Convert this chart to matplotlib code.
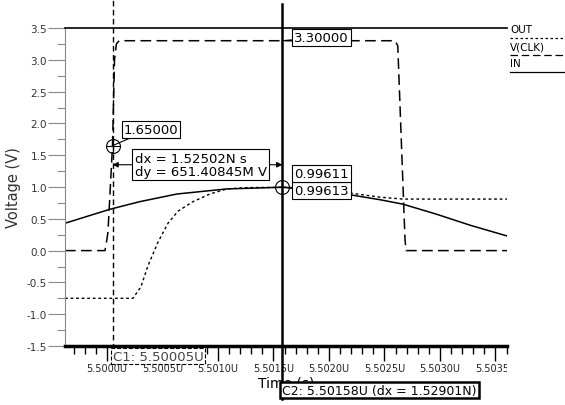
import matplotlib
matplotlib.use("Agg")
import matplotlib.pyplot as plt
import matplotlib.transforms as mtransforms
from matplotlib.lines import Line2D
from matplotlib.ticker import FixedLocator, MultipleLocator, FuncFormatter

# time in ns after 5.5 us, voltage in V
clk_t = [-0.378, -0.018, 0.0, 0.009, 0.05, 0.068, 0.085, 0.11, 2.595, 2.62, 2.685, 2.694, 3.604]
clk_v = [0.0, 0.0, 0.18, 0.29, 1.65, 3.0, 3.25, 3.3, 3.3, 3.22, 0.18, 0.0, 0.0]

out_t = [-0.378, 0.234, 0.306, 0.369, 0.459, 0.550, 0.640, 0.775, 0.928, 1.081,
         1.261, 1.58, 1.92, 2.252, 2.46, 2.667, 3.604]
out_v = [-0.75, -0.75, -0.57, -0.24, 0.13, 0.43, 0.62, 0.77, 0.89, 0.97,
         0.99, 0.996, 0.97, 0.89, 0.84, 0.81, 0.81]

in_t = [-0.378, 0.027, 0.297, 0.631, 1.081, 1.58, 1.92, 2.216, 2.46, 2.667, 2.973, 3.27, 3.604]
in_v = [0.43, 0.65, 0.77, 0.89, 0.97, 0.996, 0.96, 0.87, 0.80, 0.73, 0.57, 0.40, 0.23]

c1_t, c2_t = 0.05, 1.58
c1_v, c2_v = 1.65, 0.996
clk_high = 3.3
dy_level = 1.35

legend_names = ["OUT", "V(CLK)", "IN"]

fig = plt.figure(figsize=(5.65, 4.06), dpi=100, facecolor="white")
ax = fig.add_axes([65 / 565, 59 / 406, 442 / 565, 318 / 406])
ax.set_facecolor("white")

ax.plot(in_t, in_v, color="black", lw=1.1, solid_joinstyle="round")
ax.plot(out_t, out_v, color="black", lw=1.0, dashes=(2, 2))
ax.plot(clk_t, clk_v, color="black", lw=1.1, dashes=(7, 3.5))

ax.set_xlim(-0.378, 3.604)
ax.set_ylim(-1.5, 3.5)

ax.xaxis.set_major_locator(FixedLocator([0, 0.5, 1.0, 1.5, 2.0, 2.5, 3.0, 3.5]))
ax.xaxis.set_minor_locator(MultipleLocator(0.1))
ax.xaxis.set_major_formatter(FuncFormatter(lambda t, p: f"{5.5 + t * 1e-3:.4f}U"))
ax.yaxis.set_major_locator(MultipleLocator(0.5))
ax.yaxis.set_minor_locator(MultipleLocator(0.25))
ax.yaxis.set_major_formatter(FuncFormatter(lambda v, p: f"{v:.1f}"))

ax.tick_params(axis="x", which="major", direction="out", length=11, width=1,
               color="black", labelsize=7, labelcolor="#222222", pad=1)
ax.tick_params(axis="x", which="minor", direction="out", length=6, width=1, color="black")
ax.tick_params(axis="y", which="major", direction="out", length=12, width=0.8,
               color="#888888", labelsize=7.5, labelcolor="#333333", pad=1)
ax.tick_params(axis="y", which="minor", direction="out", length=6, width=0.8, color="#888888")

ax.spines["right"].set_visible(False)
ax.spines["left"].set_color("#888888")
ax.spines["left"].set_linewidth(0.8)
ax.spines["bottom"].set_linewidth(2.5)
ax.spines["top"].set_linewidth(1.2)

ax.set_xlabel("Time (s)", fontsize=10, labelpad=2)
ax.set_ylabel("Voltage (V)", fontsize=10.5, color="#333333", labelpad=4)

# clip the x tick labels at the right end of the axis
clip = mtransforms.TransformedBbox(mtransforms.Bbox.from_extents(0, 0, 507 / 565, 1), fig.transFigure)
for lab in ax.get_xticklabels():
    lab.set_clip_box(clip)
    lab.set_clip_on(True)

# cursors
ax.axvline(c1_t, ymin=-0.038, ymax=1.091, color="black", lw=1, dashes=(4, 2.5), clip_on=False, zorder=4)
ax.axvline(c2_t, ymin=-0.167, ymax=1.075, color="black", lw=1.8, clip_on=False, zorder=4)

trans = mtransforms.blended_transform_factory(ax.transData, ax.transAxes)
ax.text(c1_t, -0.012, "C1: 5.50005U", transform=trans, ha="left", va="top", fontsize=9.5,
        color="#444444", zorder=5,
        bbox=dict(boxstyle="square,pad=0.1", fc="white", ec="black", lw=0.8, ls="--"))
ax.text(c2_t, -0.118, "C2: 5.50158U (dx = 1.52901N)", transform=trans, ha="left", va="top",
        fontsize=9, zorder=5,
        bbox=dict(boxstyle="square,pad=0.15", fc="white", ec="black", lw=1.8))

# markers
for t, v in [(c1_t, c1_v), (c2_t, c2_v)]:
    ax.plot([t], [v], marker="o", ms=10, mfc="none", mec="black", mew=0.8, zorder=6)
    ax.plot([t], [v], marker="+", ms=10, mec="black", mew=0.8, zorder=6)

box = dict(boxstyle="square,pad=0.15", fc="white", ec="black", lw=0.8)
line = dict(arrowstyle="-", color="black", lw=0.8, shrinkA=0, shrinkB=0)
ax.annotate("1.65000", xy=(c1_t, c1_v), xytext=(11, 10), textcoords="offset pixels",
            ha="left", va="bottom", fontsize=9.5, bbox=box, arrowprops=line, zorder=7)
ax.annotate("3.30000", xy=(c2_t, clk_high), xytext=(12, -3), textcoords="offset pixels",
            ha="left", va="bottom", fontsize=9.5, bbox=box, arrowprops=line, zorder=7)
ax.annotate("0.99613", xy=(c2_t, c2_v), xytext=(12, -3), textcoords="offset pixels",
            ha="left", va="center", fontsize=9.5, bbox=box, arrowprops=line, zorder=7)
ax.annotate("0.99611", xy=(c2_t, c2_v), xytext=(12, 14), textcoords="offset pixels",
            ha="left", va="center", fontsize=9.5, bbox=box, zorder=7)

# dx / dy measurement
ax.annotate("", xy=(c1_t, dy_level), xytext=(c2_t, dy_level),
            arrowprops=dict(arrowstyle="<|-|>", color="black", lw=0.8, shrinkA=0, shrinkB=0,
                            mutation_scale=8), zorder=5)
ax.annotate("dx = 1.52502N s\ndy = 651.40845M V", xy=(c1_t, dy_level), xytext=(22, 0),
            textcoords="offset pixels", ha="left", va="center", fontsize=9.5,
            linespacing=1.0, bbox=dict(boxstyle="square,pad=0.2", fc="white", ec="black", lw=0.8),
            zorder=7)

# legend at the right edge
styles = [dict(dashes=(2, 2)), dict(dashes=(6, 3)), dict()]
for i, (name, st) in enumerate(zip(legend_names, styles)):
    ty = 1 - (30 + 17 * i) / 406
    ly = 1 - (39 + 17 * i) / 406
    fig.text(510 / 565, ty, name, fontsize=7.5, ha="left", va="center")
    fig.add_artist(Line2D([510 / 565, 1.0], [ly, ly], color="black", lw=0.9,
                          transform=fig.transFigure, **st))

fig.savefig("out.png", dpi=100, facecolor="white")
